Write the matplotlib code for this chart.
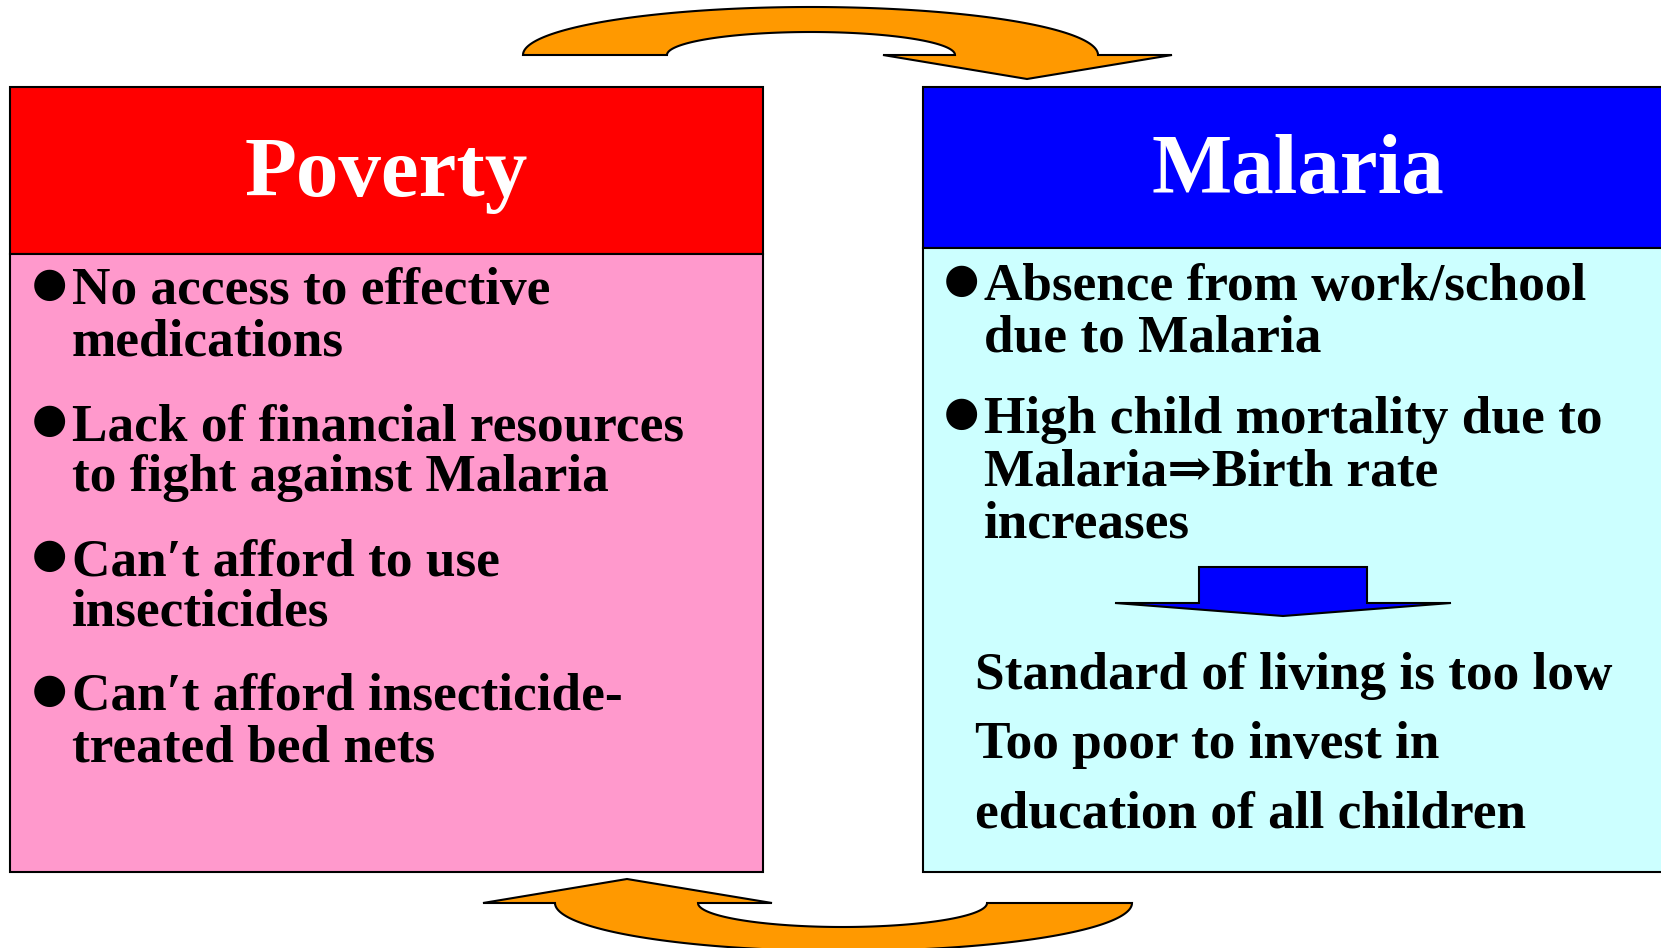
import matplotlib
matplotlib.use("Agg")
import matplotlib.pyplot as plt
import numpy as np
from matplotlib.patches import Rectangle, Polygon

# Text content
left_title = "Poverty"
right_title = "Malaria"

left_bullets = [
    ["No access to effective", "medications"],
    ["Lack of financial resources", "to fight against Malaria"],
    ["Can\u2032t afford to use", "insecticides"],
    ["Can\u2032t afford insecticide-", "treated bed nets"],
]
left_baselines = [[304, 356], [440, 491], [575, 625], [710, 761]]

right_bullets = [
    ["Absence from work/school", "due to Malaria"],
    ["High child mortality due to", "Malaria\u21d2Birth rate", "increases"],
]
right_baselines = [[300, 351], [433, 485, 537]]

conclusion_lines = [
    "Standard of living is too low",
    "Too poor to invest in",
    "education of all children",
]
conclusion_baselines = [689, 758, 828]

# Colours
RED = "#FF0000"
PINK = "#FF99CC"
BLUE = "#0000FF"
CYAN = "#CCFFFF"
ORANGE = "#FF9900"

W, H = 1661, 948
DPI = 100
PX = 72 / DPI  # points per pixel

FONT = ["Liberation Serif", "DejaVu Serif"]
BODY = 53.2 * PX
TITLE = 85 * PX
BULLET = 40.5 * PX

fig = plt.figure(figsize=(W / DPI, H / DPI), dpi=DPI)
ax = fig.add_axes([0, 0, 1, 1])
ax.set_xlim(0, W)
ax.set_ylim(H, 0)
ax.axis("off")


def box(x0, x1, y0, y1, color):
    ax.add_patch(Rectangle((x0, y0), x1 - x0, y1 - y0, facecolor=color,
                           edgecolor="black", lw=1.5, zorder=1))


# Left panel
box(10, 763, 87, 254, RED)
box(10, 763, 254, 872, PINK)
# Right panel
box(923, 1668, 87, 248, BLUE)
box(923, 1668, 248, 872, CYAN)

ax.text(386, 196, left_title, ha="center", va="baseline", color="white",
        fontsize=TITLE, fontweight="bold", family=FONT)
ax.text(1298, 193, right_title, ha="center", va="baseline", color="white",
        fontsize=TITLE, fontweight="bold", family=FONT)


def bullets(items, baselines, xb, xt):
    for lines, ys in zip(items, baselines):
        ax.text(xb, ys[0] - 8, "\u25cf", ha="left", va="baseline",
                fontsize=BULLET, family=["DejaVu Sans"], zorder=3)
        for line, y in zip(lines, ys):
            ax.text(xt, y, line, ha="left", va="baseline", fontsize=BODY,
                    fontweight="bold", family=FONT, zorder=3)


bullets(left_bullets, left_baselines, 32, 72)
bullets(right_bullets, right_baselines, 944, 984)

for line, y in zip(conclusion_lines, conclusion_baselines):
    ax.text(975, y, line, ha="left", va="baseline", fontsize=BODY,
            fontweight="bold", family=FONT, zorder=3)

# Blue down arrow
down = [(1199, 567), (1367, 567), (1367, 603), (1451, 603), (1283, 616),
        (1115, 603), (1199, 603)]
ax.add_patch(Polygon(down, closed=True, facecolor=BLUE, edgecolor="black",
                     lw=1.5, zorder=2))

t = np.linspace(0, np.pi, 160)

# Top curved arrow (left -> right), arcs bulge upwards
outer = np.column_stack([810.5 - 287.5 * np.cos(t), 55 - 48 * np.sin(t)])
inner = np.column_stack([811 + 144 * np.cos(t), 55 - 23 * np.sin(t)])
top_pts = np.vstack([
    outer,
    [(1172, 55), (1027, 79), (883, 55)],
    inner,
])
ax.add_patch(Polygon(top_pts, closed=True, facecolor=ORANGE, edgecolor="black",
                     lw=1.5, zorder=2))

# Bottom curved arrow (right -> left), arcs bulge downwards
inner_b = np.column_stack([842.5 - 144.5 * np.cos(t), 903 + 24 * np.sin(t)])
outer_b = np.column_stack([843.5 + 288.5 * np.cos(t), 903 + 48 * np.sin(t)])
bot_pts = np.vstack([
    [(627, 879), (772, 903)],
    inner_b,
    outer_b,
    [(483, 903)],
])
ax.add_patch(Polygon(bot_pts, closed=True, facecolor=ORANGE, edgecolor="black",
                     lw=1.5, zorder=2))

fig.savefig("out.png", dpi=DPI, facecolor="white")
